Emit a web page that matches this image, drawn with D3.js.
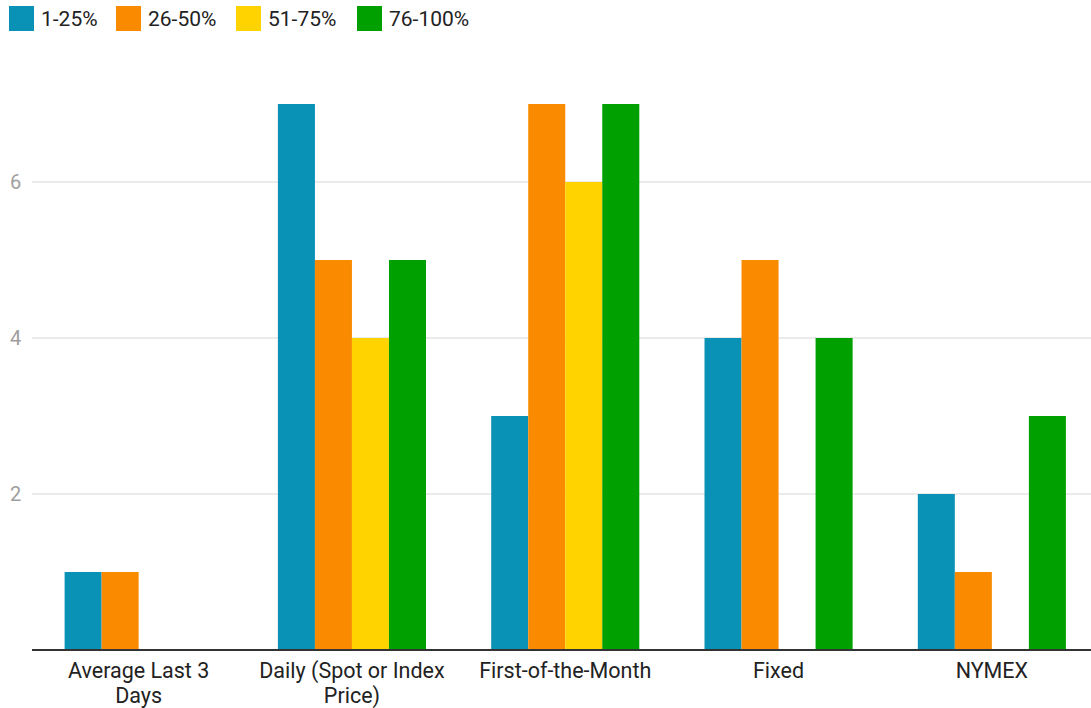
<!DOCTYPE html>
<html>
<head>
<meta charset="utf-8">
<script src="https://cdn.jsdelivr.net/npm/d3@7"></script>
<style>
  html, body { margin: 0; padding: 0; background: #fff; }
  svg { display: block; font-family: Roboto, "Noto Sans", sans-serif; }
</style>
</head>
<body>
<svg id="chart" width="1091" height="708"></svg>
<script>
// Pricing method categories, with the two-line axis labels
const categories = ["Average Last 3 Days", "Daily (Spot or Index Price)", "First-of-the-Month", "Fixed", "NYMEX"];
const categoryLines = [["Average Last 3", "Days"], ["Daily (Spot or Index", "Price)"], ["First-of-the-Month"], ["Fixed"], ["NYMEX"]];

// Series (share ranges) and their counts per category
const seriesNames = ["1-25%", "26-50%", "51-75%", "76-100%"];
const seriesColors = ["#0a91b6", "#fa8b00", "#ffd300", "#00a000"];
const s1to25 = [1, 7, 3, 4, 2];
const s26to50 = [1, 5, 7, 5, 1];
const s51to75 = [0, 4, 6, 0, 0];
const s76to100 = [0, 5, 7, 4, 3];
const seriesValues = [s1to25, s26to50, s51to75, s76to100];

const yTicks = [2, 4, 6];

const svg = d3.select("#chart");
const W = 1091;
const plotLeft = 32, plotRight = 1098.5, plotTop = 104, plotBottom = 650;

const x0 = d3.scaleBand().domain(categories).range([plotLeft, plotRight]).paddingInner(0).paddingOuter(0);
const groupInner = 32.6;
const x1 = d3.scaleBand().domain(seriesNames)
  .range([groupInner, x0.bandwidth() - groupInner]).padding(0);
const y = d3.scaleLinear().domain([0, 7]).range([plotBottom, plotTop]);

// Gridlines
svg.append("g").selectAll("line").data(yTicks).join("line")
  .attr("x1", plotLeft).attr("x2", W)
  .attr("y1", d => y(d)).attr("y2", d => y(d))
  .attr("stroke", "#e4e4e4").attr("stroke-width", 1.5);

// Y tick labels
svg.append("g").selectAll("text").data(yTicks).join("text")
  .attr("x", 10).attr("y", d => y(d))
  .attr("dy", "0.36em")
  .attr("font-size", 20).attr("fill", "#9e9e9e")
  .text(d => d);

// Bars
const groups = svg.append("g").selectAll("g").data(categories).join("g")
  .attr("transform", d => `translate(${x0(d)},0)`);
groups.selectAll("rect")
  .data((c, ci) => seriesNames.map((s, si) => ({ s, si, v: seriesValues[si][ci] })).filter(d => d.v > 0))
  .join("rect")
  .attr("x", d => x1(d.s))
  .attr("width", x1.bandwidth())
  .attr("y", d => y(d.v))
  .attr("height", d => y(0) - y(d.v))
  .attr("fill", d => seriesColors[d.si]);

// Baseline
svg.append("line")
  .attr("x1", plotLeft).attr("x2", W)
  .attr("y1", plotBottom).attr("y2", plotBottom)
  .attr("stroke", "#333").attr("stroke-width", 2);

// X category labels
const xl = svg.append("g").selectAll("text").data(categories).join("text")
  .attr("text-anchor", "middle")
  .attr("font-size", 21.5).attr("fill", "#222")
  .attr("x", d => x0(d) + x0.bandwidth() / 2)
  .attr("y", 678);
xl.selectAll("tspan").data((d, i) => categoryLines[i]).join("tspan")
  .attr("x", function () { return d3.select(this.parentNode).attr("x"); })
  .attr("dy", (d, i) => i === 0 ? 0 : 25)
  .text(d => d);

// Legend
const legendX = [9, 116, 236, 357];
const lg = svg.append("g").selectAll("g").data(seriesNames).join("g")
  .attr("transform", (d, i) => `translate(${legendX[i]},6)`);
lg.append("rect").attr("width", 25).attr("height", 25)
  .attr("fill", (d, i) => seriesColors[i]);
lg.append("text").attr("x", 32).attr("y", 12.5).attr("dy", "0.36em")
  .attr("font-size", 21).attr("fill", "#222")
  .text(d => d);
</script>
</body>
</html>
